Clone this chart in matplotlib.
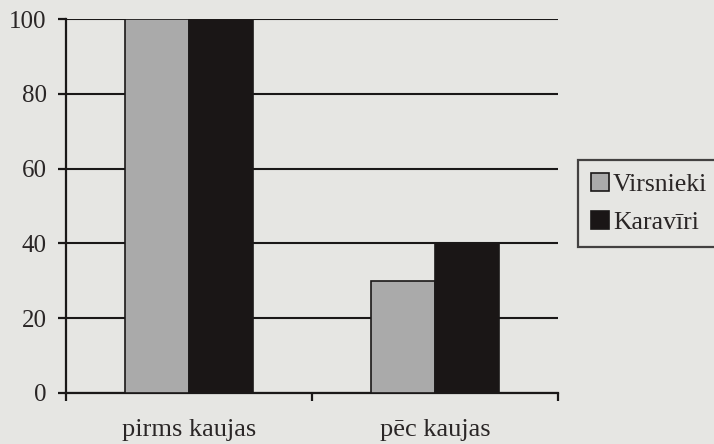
import numpy as np
import matplotlib.pyplot as plt

# data
categories = ["pirms kaujas", "pēc kaujas"]
virsnieki = [100, 30]
karaviri = [100, 40]
series_names = ["Virsnieki", "Karavīri"]
yticks = [0, 20, 40, 60, 80, 100]

paper = "#e6e6e3"
plt.rcParams['font.family'] = ['Liberation Serif', 'DejaVu Serif']

fig = plt.figure(figsize=(7.14, 4.44), dpi=100, facecolor=paper)
ax = fig.add_axes([0.0924, 0.115, 0.689, 0.842])
ax.set_facecolor(paper)

x = np.arange(len(categories))
w = 0.26
ax.bar(x - w / 2, virsnieki, w, color="#aaaaaa", edgecolor="#1a1818", linewidth=1.2,
       label=series_names[0], zorder=3)
ax.bar(x + w / 2, karaviri, w, color="#1a1616", edgecolor="#1a1818", linewidth=1.2,
       label=series_names[1], zorder=3)

ax.set_ylim(0, 100)
ax.set_xlim(-0.5, len(categories) - 0.5)
ax.set_yticks(yticks)
ax.yaxis.grid(True, color="#1a1818", linewidth=1.5, zorder=1)
ax.set_axisbelow(True)

# ticks at the category boundaries, labels at the centres
ax.set_xticks(np.arange(len(categories) + 1) - 0.5)
ax.set_xticklabels([])
ax.set_xticks(x, minor=True)
ax.set_xticklabels(categories, minor=True, fontsize=19, color="#2a2626")
ax.tick_params(axis="x", which="minor", length=0, pad=19)
ax.tick_params(axis="x", which="major", length=6, width=1.6, color="#1a1818")
ax.tick_params(axis="y", length=6, width=1.6, color="#1a1818", labelsize=18,
               labelcolor="#2a2626", pad=8)

for s in ["top", "right"]:
    ax.spines[s].set_visible(False)
for s in ["left", "bottom"]:
    ax.spines[s].set_linewidth(1.6)
    ax.spines[s].set_color("#1a1818")

leg = fig.legend(loc="upper left", bbox_to_anchor=(0.81, 0.64), fontsize=18.5,
                 frameon=True, fancybox=False, handlelength=0.7, handleheight=0.7,
                 handletextpad=0.15, borderpad=0.5, labelspacing=0.6, borderaxespad=0)
leg.get_frame().set_edgecolor("#1a1818")
leg.get_frame().set_linewidth(1.6)
leg.get_frame().set_facecolor(paper)
for t in leg.get_texts():
    t.set_color("#2a2626")

fig.savefig("out.png", dpi=100, facecolor=paper)
